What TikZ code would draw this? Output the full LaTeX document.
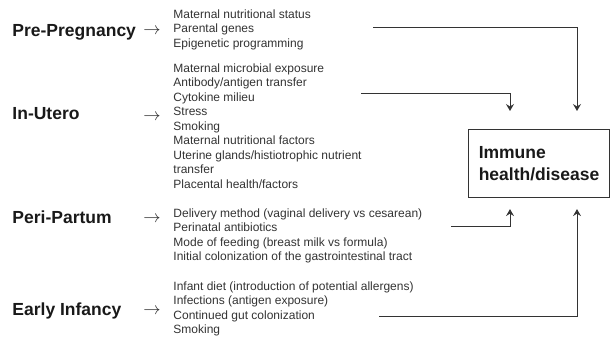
\documentclass[tikz,border=0pt]{standalone}
\usepackage{fontspec}
\setmainfont{Liberation Sans}
\usepackage{tikz}
\usetikzlibrary{arrows.meta}
\definecolor{inkgray}{HTML}{333333}
\tikzset{
every path/.style={line width=0.9pt}
, stage/.style={anchor=base west,inner sep=0,font=\fontsize{17.5}{20}\selectfont\bfseries,text=black!90}
, stagearrow/.style={inner sep=0,font=\fontsize{16}{16}\selectfont,text=black!85}
, factors/.style={anchor=north west,inner sep=0,align=left,text=inkgray,font=\fontsize{12}{14.5}\selectfont}
, outcome/.style={draw=inkgray,line width=1.1pt,anchor=north west,minimum width=141pt,minimum height=68pt,align=left,font=\fontsize{17.5}{22}\selectfont\bfseries,text=black!90}
, link/.style={draw=inkgray,-{Stealth[length=7pt,width=8pt,inset=2.5pt]}}}
\def\toarrow{$\rightarrow$}

\begin{document}
\begin{tikzpicture}[x=1pt,y=-1pt]
\useasboundingbox (0,0) rectangle (610,339);
\node[stage] at (12,37) (pre) {Pre-Pregnancy};
\node[stage] at (12,120) (utero) {In-Utero};
\node[stage] at (12,223) (peri) {Peri-Partum};
\node[stage] at (12,315) (infancy) {Early Infancy};
\node[stagearrow] at (152,31) (prearr) {\toarrow};
\node[stagearrow] at (152,117) (uteroarr) {\toarrow};
\node[stagearrow] at (152,219) (periarr) {\toarrow};
\node[stagearrow] at (152,311) (infancyarr) {\toarrow};
\node[factors] at (173,9) (prelist) {Maternal nutritional status\\Parental genes\\Epigenetic programming};
\node[factors] at (173,63) (uterolist) {Maternal microbial exposure\\Antibody/antigen transfer\\Cytokine milieu\\Stress\\Smoking\\Maternal nutritional factors\\Uterine glands/histiotrophic nutrient\\transfer\\Placental health/factors};
\node[factors] at (173,208) (perilist) {Delivery method (vaginal delivery vs cesarean)\\Perinatal antibiotics\\Mode of feeding (breast milk vs formula)\\Initial colonization of the gastrointestinal tract};
\node[factors] at (173,281) (infancylist) {Infant diet (introduction of potential allergens)\\Infections (antigen exposure)\\Continued gut colonization\\Smoking};
\node[outcome] at (468,129) (health) {Immune\\health/disease};
\coordinate (prestart) at (373,27);
\coordinate (uterostart) at (361,93);
\coordinate (peristart) at (451,226);
\coordinate (infancystart) at (379,316);
\draw [link,shorten >=18pt] (prestart) -| ([xshift=109pt]health.north west);
\draw [link,shorten >=18pt] (uterostart) -| ([xshift=42pt]health.north west);
\draw [link,shorten >=11pt] (peristart) -| ([xshift=42pt]health.south west);
\draw [link,shorten >=11pt] (infancystart) -| ([xshift=109pt]health.south west);
\end{tikzpicture}
\end{document}
